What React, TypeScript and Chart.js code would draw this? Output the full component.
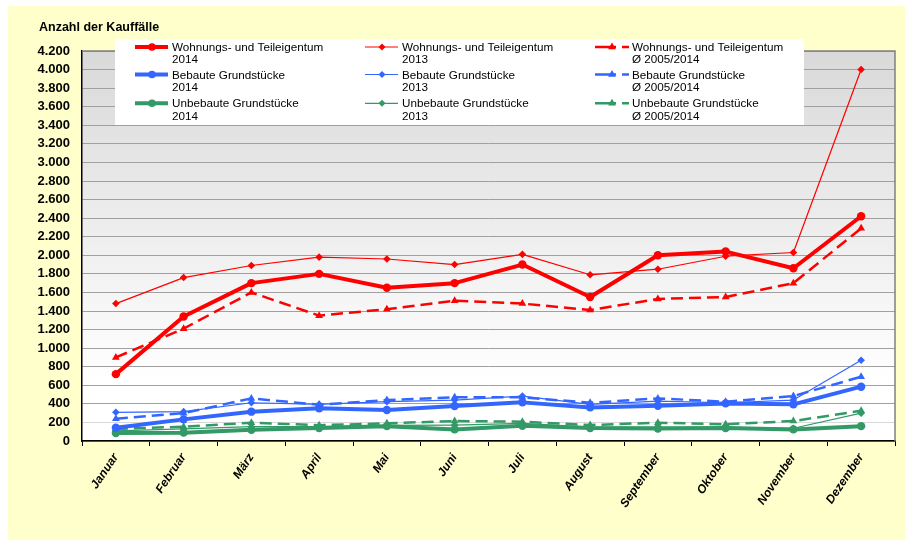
import React, { useEffect, useRef } from "react";
import { Chart, registerables } from "chart.js";

Chart.register(...registerables);

const months = ["Januar", "Februar", "März", "April", "Mai", "Juni", "Juli", "August", "September", "Oktober", "November", "Dezember"];

const wohnung2014 = [720, 1340, 1700, 1800, 1650, 1700, 1900, 1550, 2000, 2040, 1860, 2420];
const wohnung2013 = [1480, 1760, 1890, 1980, 1960, 1900, 2010, 1790, 1850, 1990, 2030, 4000];
const wohnungAvg = [900, 1210, 1600, 1350, 1420, 1510, 1480, 1410, 1530, 1550, 1700, 2290];
const bebaut2014 = [143, 233, 316, 352, 334, 377, 416, 362, 380, 405, 395, 585];
const bebaut2013 = [309, 316, 412, 395, 423, 441, 484, 395, 430, 412, 441, 870];
const bebautAvg = [240, 300, 459, 390, 441, 470, 470, 412, 459, 423, 484, 692];
const unbebaut2014 = [86, 90, 120, 140, 160, 125, 165, 140, 135, 140, 125, 160];
const unbebaut2013 = [110, 130, 154, 154, 169, 172, 190, 150, 150, 150, 137, 300];
const unbebautAvg = [130, 154, 197, 170, 190, 215, 208, 172, 197, 180, 215, 325];

const seriesNames = ["Wohnungs- und Teileigentum", "Bebaute Grundstücke", "Unbebaute Grundstücke"];
const periodNames = ["2014", "2013", "Ø 2005/2014"];
const titleText = "Anzahl der Kauffälle";
const yMax = 4200;
const yStep = 200;

const RED = "#FF0000";
const BLUE = "#3366FF";
const GREEN = "#339966";
const FONT = "'Liberation Sans', Arial, sans-serif";

const fmt = (v: number) => String(v).replace(/\B(?=(\d{3})+(?!\d))/g, ".");

function mk(label: string, data: number[], color: string, kind: number) {
  const base: any = {
    label,
    data,
    borderColor: color,
    backgroundColor: color,
    pointBackgroundColor: color,
    pointBorderColor: color,
    pointBorderWidth: 0,
    borderJoinStyle: "round",
    borderCapStyle: "round",
    tension: 0,
    fill: false,
  };
  if (kind === 0) {
    base.borderWidth = 4;
    base.pointStyle = "circle";
    base.pointRadius = 4.2;
  } else if (kind === 1) {
    base.borderWidth = 1.2;
    base.pointStyle = "rectRot";
    base.pointRadius = 3.8;
  } else {
    base.borderWidth = 2.5;
    base.borderDash = [12, 6];
    base.borderCapStyle = "butt";
    base.pointStyle = "triangle";
    base.pointRadius = 4.5;
  }
  base.kind = kind;
  return base;
}

function marker(ctx: CanvasRenderingContext2D, kind: number, x: number, y: number) {
  ctx.beginPath();
  if (kind === 0) {
    ctx.arc(x, y, 3.8, 0, Math.PI * 2);
  } else if (kind === 1) {
    const r = 3.5;
    ctx.moveTo(x, y - r);
    ctx.lineTo(x + r, y);
    ctx.lineTo(x, y + r);
    ctx.lineTo(x - r, y);
  } else {
    const r = 4.5;
    ctx.moveTo(x, y - r);
    ctx.lineTo(x + r * 0.866, y + r * 0.5);
    ctx.lineTo(x - r * 0.866, y + r * 0.5);
  }
  ctx.closePath();
  ctx.fill();
}

const decoPlugin = {
  id: "deco",
  beforeDraw(chart: any) {
    const { ctx, chartArea: a } = chart;
    const g = ctx.createLinearGradient(0, a.top, 0, a.bottom);
    g.addColorStop(0, "#D9D9D9");
    g.addColorStop(0.85, "#FFFFFF");
    g.addColorStop(1, "#FFFFFF");
    ctx.save();
    ctx.fillStyle = g;
    ctx.fillRect(a.left, a.top, a.right - a.left, a.bottom - a.top);
    ctx.restore();
  },
  afterDraw(chart: any) {
    const { ctx, chartArea: a } = chart;
    ctx.save();
    ctx.strokeStyle = "#808080";
    ctx.lineWidth = 1.5;
    ctx.beginPath();
    ctx.moveTo(a.left, a.top);
    ctx.lineTo(a.right, a.top);
    ctx.lineTo(a.right, a.bottom);
    ctx.stroke();

    ctx.fillStyle = "#000000";
    ctx.font = `bold 12.5px ${FONT}`;
    ctx.textAlign = "left";
    ctx.textBaseline = "alphabetic";
    ctx.fillText(titleText, 31, 25);

    ctx.fillStyle = "#FFFFFF";
    ctx.fillRect(107, 33, 689, 86);

    const colText = [164, 394, 624];
    const rowBase = [45, 72.5, 101.3];
    chart.data.datasets.forEach((ds: any, i: number) => {
      const col = Math.floor(i / 3);
      const row = i % 3;
      const tx = colText[col];
      const by = rowBase[row];
      const ly = by - 4;
      ctx.strokeStyle = ds.borderColor;
      ctx.fillStyle = ds.borderColor;
      ctx.lineWidth = ds.borderWidth;
      ctx.setLineDash([]);
      ctx.lineCap = "butt";
      ctx.beginPath();
      if (ds.kind === 2) {
        ctx.moveTo(tx - 37, ly);
        ctx.lineTo(tx - 16, ly);
        ctx.moveTo(tx - 10, ly);
        ctx.lineTo(tx - 3, ly);
      } else {
        ctx.moveTo(tx - 37, ly);
        ctx.lineTo(tx - 4, ly);
      }
      ctx.stroke();
      marker(ctx, ds.kind, tx - 20, ly);
      ctx.fillStyle = "#000000";
      ctx.font = `11.7px ${FONT}`;
      ctx.fillText(seriesNames[row], tx, by);
      ctx.fillText(periodNames[col], tx, by + 12.3);
    });
    ctx.restore();
  },
};

export default function App() {
  const ref = useRef<HTMLCanvasElement | null>(null);
  useEffect(() => {
    if (!ref.current) return;
    const datasets = [
      mk(`${seriesNames[0]} ${periodNames[0]}`, wohnung2014, RED, 0),
      mk(`${seriesNames[1]} ${periodNames[0]}`, bebaut2014, BLUE, 0),
      mk(`${seriesNames[2]} ${periodNames[0]}`, unbebaut2014, GREEN, 0),
      mk(`${seriesNames[0]} ${periodNames[1]}`, wohnung2013, RED, 1),
      mk(`${seriesNames[1]} ${periodNames[1]}`, bebaut2013, BLUE, 1),
      mk(`${seriesNames[2]} ${periodNames[1]}`, unbebaut2013, GREEN, 1),
      mk(`${seriesNames[0]} ${periodNames[2]}`, wohnungAvg, RED, 2),
      mk(`${seriesNames[1]} ${periodNames[2]}`, bebautAvg, BLUE, 2),
      mk(`${seriesNames[2]} ${periodNames[2]}`, unbebautAvg, GREEN, 2),
    ];
    const chart = new Chart(ref.current, {
      type: "line",
      data: { labels: months, datasets },
      plugins: [decoPlugin],
      options: {
        responsive: false,
        animation: false,
        devicePixelRatio: 1,
        layout: { padding: { top: 45, right: 10, left: 0, bottom: 0 } },
        plugins: { legend: { display: false }, title: { display: false }, tooltip: { enabled: false } },
        scales: {
          x: {
            type: "category",
            offset: true,
            grid: {
              display: true,
              offset: true,
              drawOnChartArea: false,
              drawTicks: true,
              tickLength: 5,
              color: "#000000",
              lineWidth: 1,
            },
            border: { display: true, color: "#000000", width: 1.5 },
            ticks: {
              autoSkip: false,
              maxRotation: 56,
              minRotation: 56,
              padding: 5,
              color: "#000000",
              font: { family: FONT, size: 12, weight: "bold", style: "italic" },
            },
            afterFit(scale: any) {
              scale.height = 99;
            },
          },
          y: {
            min: 0,
            max: yMax,
            ticks: {
              stepSize: yStep,
              autoSkip: false,
              padding: 12,
              color: "#000000",
              font: { family: FONT, size: 13, weight: "bold" },
              callback: (v: any) => fmt(Number(v)),
            },
            grid: {
              drawTicks: false,
              color: (c: any) => (c.tick && c.tick.value === 200 ? "#D8D8D8" : "#A0A0A0"),
              lineWidth: 1,
            },
            border: { display: true, color: "#000000", width: 1.5 },
            afterFit(scale: any) {
              scale.width = 74;
            },
          },
        },
      } as any,
    });
    return () => chart.destroy();
  }, []);
  return (
    <div style={{ position: "absolute", left: 8, top: 6, width: 897, height: 534, background: "#FFFFCC" }}>
      <canvas ref={ref} width={897} height={534} style={{ width: 897, height: 534, display: "block" }} />
    </div>
  );
}
